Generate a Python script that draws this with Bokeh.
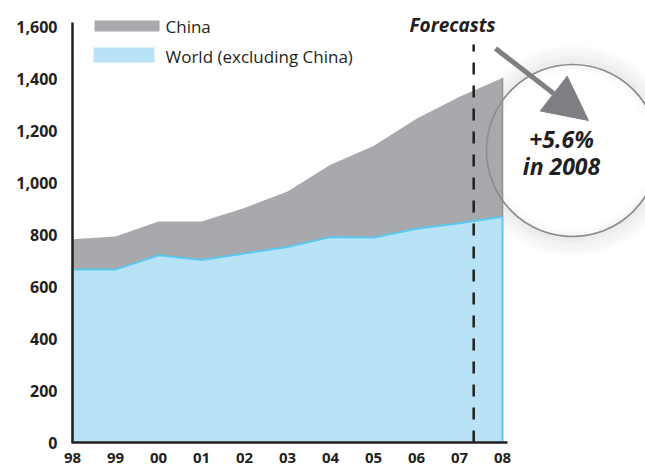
from bokeh.plotting import figure
from bokeh.models import (Range1d, FixedTicker, NumeralTickFormatter,
                          Arrow, NormalHead, ColumnDataSource)
from bokeh.core.properties import value
from bokeh.embed import file_html
from bokeh.resources import INLINE

years = [1998, 1999, 2000, 2001, 2002, 2003, 2004, 2005, 2006, 2007, 2008]
year_labels = ["98", "99", "00", "01", "02", "03", "04", "05", "06", "07", "08"]
world_ex_china = [665, 665, 720, 702, 727, 752, 790, 788, 822, 843, 868]
total_incl_china = [782, 792, 850, 850, 902, 965, 1068, 1140, 1245, 1330, 1402]
y_ticks = [0, 200, 400, 600, 800, 1000, 1200, 1400, 1600]
series_names = ["China", "World (excluding China)"]
forecast_start = 2007.33
note_lines = ["+5.6%", "in 2008"]

GREY = "#a7a9ac"
BLUE_FILL = "#b8e3f7"
BLUE_LINE = "#5bc8f0"
DARK = "#231f20"

PX_X = 43.0   # pixels per year
PX_Y = 0.26   # pixels per unit
LEFT, BOTTOM = 70, 22
W, H = 645, 466
frame_w = W - LEFT
frame_h = H - BOTTOM
x0 = years[0] - 2 / PX_X
y0 = -2 / PX_Y


def dx(px):
    return years[0] + (px - 72) / PX_X


def dy(py):
    return (442 - py) / PX_Y


p = figure(width=W, height=H, output_backend="svg", toolbar_location=None,
           x_range=Range1d(x0, x0 + frame_w / PX_X),
           y_range=Range1d(y0, y0 + frame_h / PX_Y),
           min_border_left=LEFT, min_border_bottom=BOTTOM,
           min_border_top=0, min_border_right=0)
p.outline_line_color = None
p.grid.visible = False
p.background_fill_color = "white"

# glow around callout circle (decoration)
cx, cy = dx(572), dy(150)
for i in range(14):
    p.scatter([cx], [cy], size=172 + 3 * i, marker="circle", fill_color=None,
              line_color="#9a9a9a", line_width=2, line_alpha=0.16 * (1 - i / 14))
for i in range(1, 6):
    p.scatter([cx], [cy], size=172 - 3 * i, marker="circle", fill_color=None,
              line_color="#9a9a9a", line_width=2, line_alpha=0.07 * (1 - i / 6))

src = ColumnDataSource(dict(x=years, w=world_ex_china, t=total_incl_china, z=[0] * len(years)))
p.varea(x="x", y1="w", y2="t", source=src, fill_color=GREY)
p.varea(x="x", y1="z", y2="w", source=src, fill_color=BLUE_FILL)
p.line([years[0]] + years + [years[-1]], [0] + world_ex_china + [0],
       line_color=BLUE_LINE, line_width=2)
p.segment([years[-1]], [world_ex_china[-1]], [years[-1]], [total_incl_china[-1]],
          line_color="#8f9194", line_width=1.5)

# forecast divider
p.segment([forecast_start], [0], [forecast_start], [dy(44)], line_color=DARK,
          line_width=2.5, line_dash="12 11")

# axis lines
x_end = years[-1] + 5 / PX_X
p.segment([years[0]], [0], [years[0]], [dy(22)], line_color=DARK, line_width=2.5)
p.segment([years[0] - 1 / PX_X], [0], [x_end], [0], line_color=DARK, line_width=2.5)

# callout circle outline
p.scatter([cx], [cy], size=172, marker="circle", fill_color=None,
          line_color="#8c8c8c", line_width=1.6)

arrow = Arrow(end=NormalHead(size=44, fill_color="#7d7f82", line_color="#7d7f82"),
              x_start=dx(495), y_start=dy(48), x_end=dx(588), y_end=dy(120),
              line_color="#7d7f82", line_width=5)
p.add_layout(arrow)

p.text([dx(452)], [dy(24)], text=["Forecasts"],
       text_font=value("Open Sans"), text_font_style="bold italic", text_font_size="19px",
       text_color=DARK, text_align="center", text_baseline="middle")
p.text([dx(561)] * 2, [dy(138), dy(165)],
       text=note_lines, text_font=value("Open Sans"), text_font_style="bold italic",
       text_font_size="23px", text_color=DARK, text_align="center", text_baseline="middle")

# legend (drawn by hand to match swatch sizes)
p.quad(left=[dx(94), dx(93)], right=[dx(159), dx(154)],
       top=[dy(20), dy(47)], bottom=[dy(31), dy(62)],
       fill_color=[GREY, BLUE_FILL], line_color=None)
p.text([dx(165)] * 2, [dy(26), dy(56)], text=series_names,
       text_font=value("Open Sans"), text_font_size="17px", text_color=DARK,
       text_align="left", text_baseline="middle")

# axes
p.xaxis.ticker = FixedTicker(ticks=years)
p.xaxis.major_label_overrides = {y: l for y, l in zip(years, year_labels)}
p.yaxis.ticker = FixedTicker(ticks=y_ticks)
p.yaxis.formatter = NumeralTickFormatter(format="0,0")
for ax in (p.xaxis, p.yaxis):
    ax.axis_line_color = None
    ax.major_tick_line_color = None
    ax.minor_tick_line_color = None
    ax.major_label_text_font = "Open Sans"
    ax.major_label_text_font_style = "bold"
    ax.major_label_text_color = DARK
p.xaxis.major_label_text_font_size = "15px"
p.yaxis.major_label_text_font_size = "16px"
p.xaxis.major_label_standoff = 2
p.yaxis.major_label_standoff = 7

open("out.html", "w").write(file_html(p, INLINE))
